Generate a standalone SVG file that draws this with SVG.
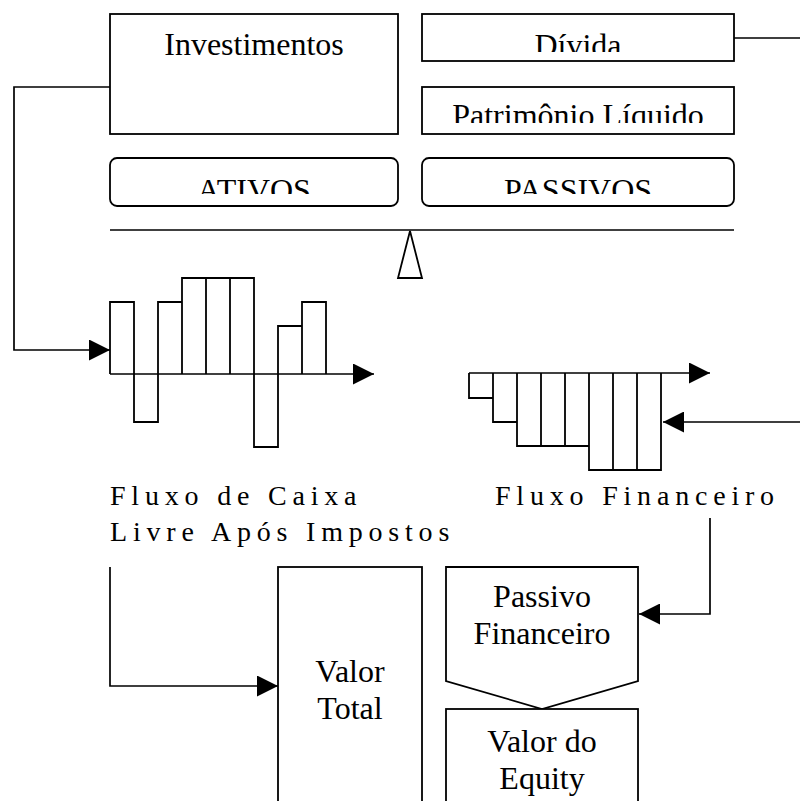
<svg xmlns="http://www.w3.org/2000/svg" width="800" height="801" viewBox="0 0 800 801">
<style>
.box{fill:#fff;stroke:#000;stroke-width:1.8}
.bar{fill:none;stroke:#000;stroke-width:1.8}
.ln{fill:none;stroke:#000;stroke-width:1.7}
.t{font-family:"Liberation Serif","Times New Roman",serif;font-size:32px;fill:#000;text-anchor:middle}
.lab{font-family:"Liberation Serif","Times New Roman",serif;font-size:28px;fill:#000;letter-spacing:5.8px}
</style>
<defs>
<marker id="arr" viewBox="0 0 21 21" refX="21" refY="10.5" markerWidth="21" markerHeight="21" markerUnits="userSpaceOnUse" orient="auto">
<path d="M0,0 L21,10.5 L0,21 z" fill="#000"/>
</marker>
<clipPath id="cDiv"><rect x="422" y="14" width="312" height="38"/></clipPath>
<clipPath id="cPat"><rect x="422" y="87" width="312" height="36"/></clipPath>
<clipPath id="cAtv"><rect x="110" y="158" width="624" height="36"/></clipPath>
</defs>
<rect width="800" height="801" fill="#fff"/>

<g id="investimentos">
<rect class="box" x="110" y="14" width="288" height="120"/>
<text class="t" x="254" y="55">Investimentos</text>
</g>
<g id="divida">
<rect class="box" x="422" y="14" width="312" height="47"/>
<text class="t" x="578" y="56" clip-path="url(#cDiv)">Dívida</text>
</g>
<g id="patrimonio">
<rect class="box" x="422" y="87" width="312" height="47"/>
<text class="t" x="578" y="126" clip-path="url(#cPat)">Patrimônio Líquido</text>
</g>
<g id="ativos">
<rect class="box" x="110" y="158" width="288" height="48" rx="7"/>
<text class="t" x="254" y="201" clip-path="url(#cAtv)">ATIVOS</text>
</g>
<g id="passivos">
<rect class="box" x="422" y="158" width="312" height="48" rx="7"/>
<text class="t" x="578" y="201" clip-path="url(#cAtv)">PASSIVOS</text>
</g>

<g id="balanca">
<line class="ln" x1="110" y1="230" x2="734" y2="230"/>
<polygon class="bar" points="410,231 398,278 422,278"/>
</g>

<g id="fluxo-caixa">
<path class="bar" d="M110,374 V302 H134 V374 M134,374 V422 H158 V374 M158,374 V302 H182 V374 M182,374 V278 H206 V374 M206,374 V278 H230 V374 M230,374 V278 H254 V374 M254,374 V447 H278 V374 M278,374 V326 H302 V374 M302,374 V302 H326 V374"/>
<line class="ln" x1="110" y1="374" x2="374" y2="374" marker-end="url(#arr)"/>
<text class="lab" x="110" y="505">Fluxo de Caixa</text>
<text class="lab" x="110" y="541">Livre Após Impostos</text>
</g>

<g id="fluxo-financeiro">
<path class="bar" d="M469,373 V398 H493 V373 M493,373 V422 H517 V373 M517,373 V446 H541 V373 M541,373 V446 H565 V373 M565,373 V446 H589 V373 M589,373 V470 H613 V373 M613,373 V470 H637 V373 M637,373 V470 H661 V373"/>
<line class="ln" x1="469" y1="373" x2="710" y2="373" marker-end="url(#arr)"/>
<text class="lab" x="495" y="505">Fluxo Financeiro</text>
</g>

<g id="valor-total">
<rect class="box" x="278" y="567" width="144" height="250"/>
<text class="t" x="350" y="682">Valor</text>
<text class="t" x="350" y="719">Total</text>
</g>
<g id="passivo-financeiro">
<polygon class="box" points="446,567 638,567 638,681 542,709 446,681"/>
<text class="t" x="542" y="607">Passivo</text>
<text class="t" x="542" y="644">Financeiro</text>
</g>
<g id="valor-equity">
<rect class="box" x="446" y="709" width="192" height="110"/>
<text class="t" x="542" y="752">Valor do</text>
<text class="t" x="542" y="789">Equity</text>
</g>

<g id="connectors">
<path class="ln" d="M110,87 H14 V350 H110" marker-end="url(#arr)"/>
<path class="ln" d="M734,38 H806 V422 H663" marker-end="url(#arr)"/>
<path class="ln" d="M110,567 V686 H278" marker-end="url(#arr)"/>
<path class="ln" d="M710,518 V614 H639" marker-end="url(#arr)"/>
</g>
</svg>
